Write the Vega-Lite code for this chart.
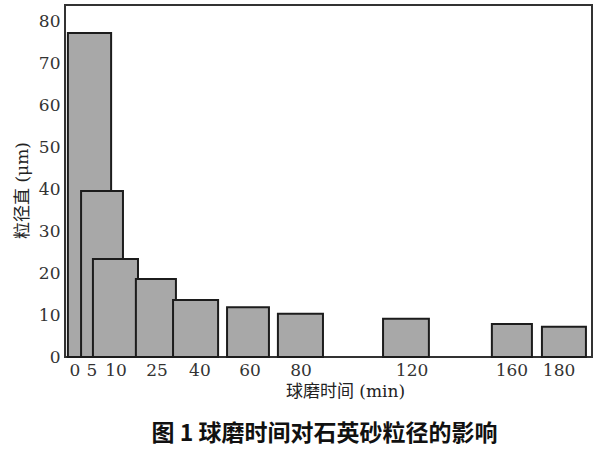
{
  "$schema": "https://vega.github.io/schema/vega-lite/v6.json",
  "autosize": "none",
  "width": 527,
  "height": 352,
  "padding": {"left": 65, "top": 5, "right": 8, "bottom": 93},
  "background": "white",
  "config": {
    "view": {"stroke": "#333", "strokeWidth": 2},
    "font": "DejaVu Serif"
  },
  "title": {
    "text": "图 1  球磨时间对石英砂粒径的影响",
    "orient": "bottom",
    "font": "Noto Sans CJK SC",
    "fontWeight": "bold",
    "fontSize": 23,
    "color": "#111",
    "offset": 24,
    "anchor": "middle",
    "dx": -4
  },
  "data": {
    "values": [
      {"t": 0, "start": 1.1, "end": 17.5, "size": 77.3, "labelPos": 3.8},
      {"t": 5, "start": 6.1, "end": 22.0, "size": 39.6, "labelPos": 10.2},
      {"t": 10, "start": 10.6, "end": 27.7, "size": 23.4, "labelPos": 19.4},
      {"t": 25, "start": 26.9, "end": 42.1, "size": 18.6, "labelPos": 34.9},
      {"t": 40, "start": 41.0, "end": 58.1, "size": 13.6, "labelPos": 51.2},
      {"t": 60, "start": 61.5, "end": 77.4, "size": 11.9, "labelPos": 70.2},
      {"t": 80, "start": 80.8, "end": 97.9, "size": 10.3, "labelPos": 89.6},
      {"t": 120, "start": 120.7, "end": 138.1, "size": 9.1, "labelPos": 131.7},
      {"t": 160, "start": 162.0, "end": 177.2, "size": 7.9, "labelPos": 169.6},
      {"t": 180, "start": 181.0, "end": 197.7, "size": 7.2, "labelPos": 187.5}
    ]
  },
  "layer": [
    {
      "mark": {"type": "bar", "fill": "#a8a8a8", "stroke": "#1c1c1c", "strokeWidth": 2, "opacity": 1},
      "encoding": {
        "x": {
          "field": "start",
          "type": "quantitative",
          "scale": {"domain": [0, 200], "nice": false, "zero": false},
          "axis": {
            "title": "球磨时间 (min)",
            "labels": false,
            "ticks": false,
            "domain": false,
            "grid": false,
            "titleFont": "DejaVu Serif, Noto Sans CJK SC",
            "titleFontSize": 17,
            "titleFontWeight": "normal",
            "titleColor": "#222",
            "titlePadding": 26,
            "titleX": 280
          }
        },
        "x2": {"field": "end"},
        "y": {
          "field": "size",
          "type": "quantitative",
          "scale": {"domain": [0, 84], "nice": false},
          "axis": {
            "title": "粒径直 (μm)",
            "values": [0, 10, 20, 30, 40, 50, 60, 70, 80],
            "ticks": false,
            "domain": false,
            "grid": false,
            "labelFont": "DejaVu Serif",
            "labelFontSize": 17,
            "labelColor": "#333",
            "labelPadding": 5,
            "titleFont": "DejaVu Serif, Noto Sans CJK SC",
            "titleFontSize": 17,
            "titleFontWeight": "normal",
            "titleColor": "#222",
            "titlePadding": 7,
            "titleY": 185
          }
        },
        "y2": {"datum": 0}
      }
    },
    {
      "mark": {"type": "text", "baseline": "top", "align": "center", "dy": 6, "fontSize": 17, "font": "DejaVu Serif", "color": "#333"},
      "encoding": {
        "x": {"field": "labelPos", "type": "quantitative"},
        "y": {"datum": 0},
        "text": {"field": "t", "type": "nominal"}
      }
    }
  ]
}
